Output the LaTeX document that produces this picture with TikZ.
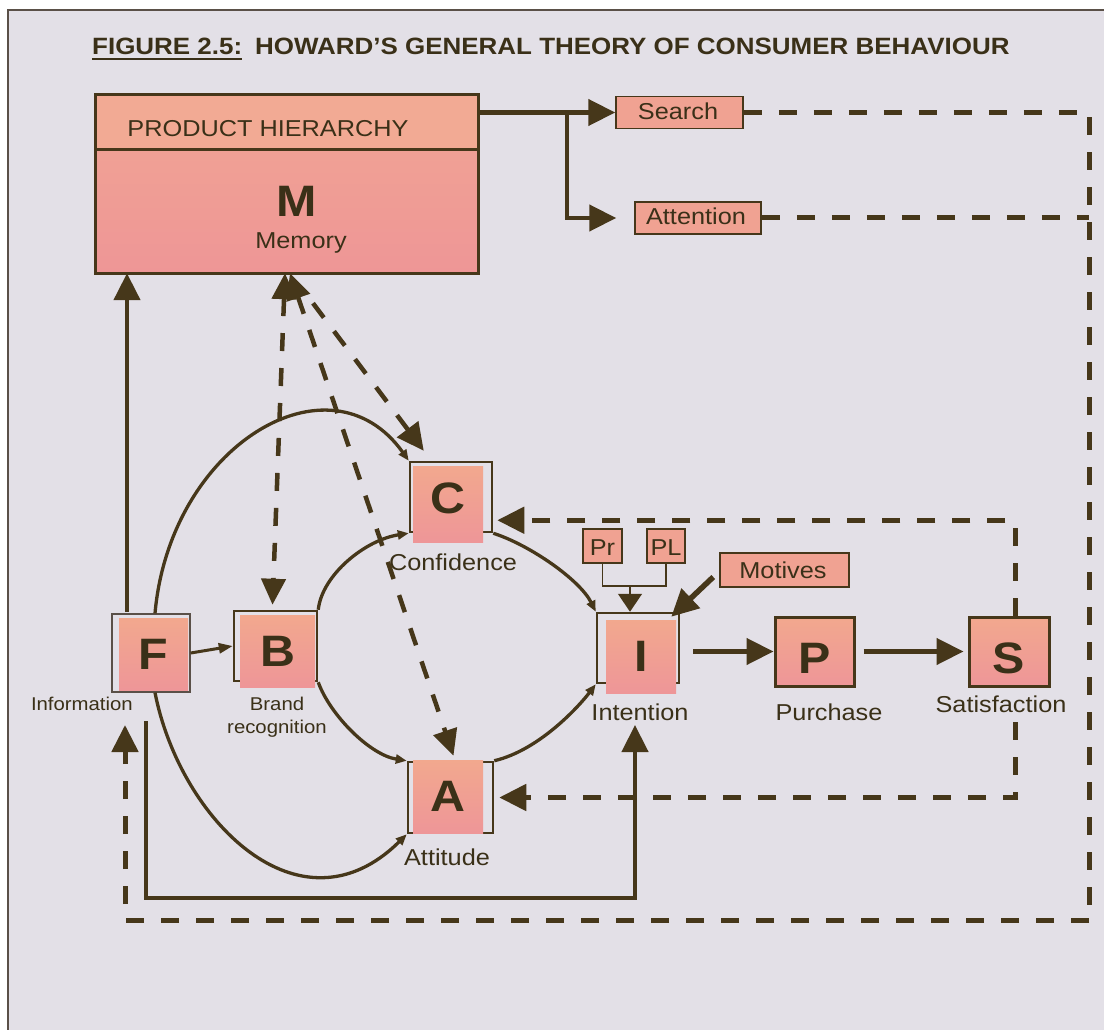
\documentclass[tikz,border=0pt]{standalone}
\usepackage{fontspec}
\setmainfont{Liberation Sans}[FakeStretch=1.1]
\usetikzlibrary{arrows.meta,calc}
\definecolor{bgc}{HTML}{E3E0E7}
\definecolor{lc}{HTML}{46371A}
\definecolor{tc}{HTML}{3A3018}
\definecolor{framec}{HTML}{5A5048}
\definecolor{pinkT}{HTML}{F2A88E}
\definecolor{pinkB}{HTML}{EE9698}
\definecolor{mtopc}{HTML}{F2AA94}
\definecolor{mlowT}{HTML}{F1A594}
\definecolor{mlowB}{HTML}{EE9696}
\definecolor{boxc}{HTML}{F0A292}
\newcommand{\ulword}[1]{\setbox0\hbox{#1}\rlap{\rule[-5pt]{\wd0}{2pt}}\box0}
\tikzset{
  ln/.style={draw=lc, line width=4.5pt},
  cv/.style={draw=lc, line width=3.3pt},
  thinln/.style={draw=lc, line width=1.5pt},
  dsh/.style={draw=lc, line width=5pt, dash pattern=on 18pt off 17pt},
  big/.style={-{Triangle[length=27pt,width=26pt]}},
  bigb/.style={{Triangle[length=26pt,width=24pt]}-{Triangle[length=26pt,width=24pt]}},
  sml/.style={-{Triangle[length=11pt,width=9pt]}},
  frm/.style={rectangle, inner sep=0pt, draw=lc, line width=2.5pt},
  pink/.style={rectangle, inner sep=0pt, top color=pinkT, bottom color=pinkB, draw=none,
    font=\fontsize{44}{44}\selectfont\bfseries, text=tc},
  pinkd/.style={pink, draw=lc, line width=3pt},
  lbl/.style={inner sep=0pt, text=tc, font=\fontsize{23}{26}\selectfont},
  lbls/.style={inner sep=0pt, text=tc, font=\fontsize{18.5}{23}\selectfont},
  sbox/.style={rectangle, inner sep=0pt, fill=boxc, draw=lc, line width=1.5pt},
}
\begin{document}
\begin{tikzpicture}[x=1pt,y=-1pt]
\useasboundingbox (0,0) rectangle (1104,1030);
\fill[white] (0,0) rectangle (1104,1030);
\fill[bgc] (8,10) rectangle (1104,1030);
\draw[framec, line width=1.5pt] (8,1030) -- (8,10) -- (1104,10);

% title
\node[anchor=base west, inner sep=0pt, text=tc, font=\fontsize{23.6}{26}\selectfont\bfseries] (title) at (92,55)
  {\ulword{FIGURE 2.5:}\hspace{0.55em}HOWARD’S GENERAL THEORY OF CONSUMER BEHAVIOUR};

% memory box
\node[rectangle, inner sep=0pt, minimum width=382pt, minimum height=178pt, top color=mlowT, bottom color=mlowB] (M) at (287,184) {};
\fill[mtopc] (M.north west) rectangle ($(M.north east)+(0,55)$);
\draw[lc, line width=3pt] (M.north west) rectangle (M.south east);
\draw[lc, line width=3pt] ($(M.north west)+(0,55)$) -- ($(M.north east)+(0,55)$);
\node[lbl, anchor=base] (PH) at (268,137) {PRODUCT HIERARCHY};
\node[inner sep=0pt, anchor=base, text=tc, font=\fontsize{44}{44}\selectfont\bfseries] (Mt) at (297,217) {M};
\node[lbl, anchor=base] (Mem) at (301,248) {Memory};

% search / attention
\node[sbox, minimum width=127pt, minimum height=32pt] (Search) at (679.5,112.5) {};
\node[lbl, anchor=base] (SearchT) at (678,120) {Search};
\node[sbox, minimum width=126pt, minimum height=32pt] (Att) at (698,218) {};
\node[lbl, anchor=base] (AttT) at (696,225) {Attention};

% frames
\node[frm, line width=1.2pt, draw=framec, minimum width=78pt, minimum height=78pt] (Ff) at (151,653) {};
\node[frm, minimum width=83pt, minimum height=70pt] (Bf) at (275.5,646) {};
\node[frm, minimum width=82pt, minimum height=70pt] (Cf) at (451,497) {};
\node[frm, minimum width=85pt, minimum height=71pt] (Af) at (450.5,797.5) {};
\node[frm, minimum width=82pt, minimum height=70pt] (If) at (638,648) {};

% pink boxes
\node[pink, minimum width=69pt, minimum height=72pt] (F) at (153.5,654) {F};
\node[pink, minimum width=75pt, minimum height=72pt] (B) at (277.5,651) {B};
\node[pink, minimum width=70pt, minimum height=76pt, text height=32pt, text depth=14pt] (C) at (448,504) {C};
\node[pink, minimum width=70pt, minimum height=73pt] (A) at (448,796.5) {A};
\node[pink, minimum width=70pt, minimum height=73pt] (I) at (641,656.5) {I};
\node[pinkd, minimum width=79pt, minimum height=69pt, text height=43pt, text depth=0pt] (P) at (814.5,651.5) {P};
\node[pinkd, minimum width=80pt, minimum height=69pt, text height=43pt, text depth=0pt] (S) at (1009,651.5) {S};

% small boxes
\node[sbox, minimum width=39pt, minimum height=34pt] (Pr) at (602.5,546) {};
\node[lbl, anchor=base] (PrT) at (602.5,555) {Pr};
\node[sbox, minimum width=38pt, minimum height=34pt] (PL) at (666,546) {};
\node[lbl, anchor=base] (PLT) at (666,555) {PL};
\node[sbox, minimum width=129pt, minimum height=34pt] (Mot) at (784.5,570) {};
\node[lbl, anchor=base] (MotT) at (783,578) {Motives};

% labels
\node[lbls, anchor=base east] (lInfo) at (133,710) {Information};
\node[lbls, align=center] (lBrand) at (277,717) {Brand\\recognition};
\node[lbl, anchor=base] (lConf) at (453,570) {Confidence};
\node[lbl, anchor=base] (lAtt) at (447,865) {Attitude};
\node[lbl, anchor=base] (lInt) at (640,720) {Intention};
\node[lbl, anchor=base] (lPur) at (829,720) {Purchase};
\node[lbl, anchor=base] (lSat) at (1001,712) {Satisfaction};

% coordinates
\coordinate (br) at (567,112.5);
\coordinate (bc) at (1089,920);
\coordinate (Fin) at (125,725);
\coordinate (fm) at (127,612);
\coordinate (fb) at (146,721);
\coordinate (ib) at (635,898);
\coordinate (itip) at (635,725);
\coordinate (jn) at (630,586);
\coordinate (sd) at (1015,722);

% M outputs
\draw[ln,big] (M.east |- Search.west) -- (Search.west);
\draw[ln,big] (br) |- ($(Att.west)+(-18,0)$);
\draw[dsh] (Search.east) -| (bc);
\draw[dsh,big] (bc) -| (Fin);
\draw[dsh] (Att.east) -- (Att.east -| bc);

% F connections
\draw[ln,big] (fm) -- (fm |- M.south);
\draw[line width=3pt, draw=lc, -{Triangle[length=14pt,width=10pt]}] (Ff.east) -- (Bf.west);
\draw[ln,big] (fb) |- (ib) -- (itip);

% curves
\draw[cv,sml] ($(Ff.north)+(4,0)$) .. controls (170,445) and (330,350) .. (Cf.north west);
\draw[cv,sml] ($(Ff.south)+(4,0)$) .. controls (180,820) and (300,940) .. (Af.south west);
\draw[cv,sml] (Bf.north east) .. controls (322,575) and (365,540) .. (Cf.south west);
\draw[cv,sml] (Bf.south east) .. controls (330,715) and (370,755) .. (Af.north west);
\draw[cv,sml] (Cf.south east) .. controls (530,545) and (580,580) .. (If.north west);
\draw[cv,sml] (Af.north east) .. controls (540,750) and (580,705) .. (If.south west);

% memory dashed links
\draw[dsh, line width=4.5pt, bigb] ($(M.south)+(-2,0)$) -- ($(Bf.north)+(-3,-5)$);
\draw[dsh, line width=4.5pt, bigb] ($(M.south)+(3,0)$) -- ($(Af.north)+(3,-5)$);
\draw[dsh, line width=4.5pt, big] ($(M.south)+(26,30)$) -- ($(Cf.north west)+(15,-10)$);

% Pr / PL
\draw[thinln] (Pr.south) |- (PL.south |- jn) -- (PL.south);
\draw[thinln, -{Triangle[length=18pt,width=24pt]}] (jn) -- (jn |- If.north);
\draw[ln, line width=5.5pt, big] ($(Mot.west)+(-6,7)$) -- ($(If.north east)+(-9,5)$);

% I -> P -> S
\draw[ln,big] ($(If.east |- P.west)+(13,0)$) -- (P.west);
\draw[ln,big] ($(P.east)+(8,0)$) -- ($(S.west)+(-4,0)$);

% feedback from S
\draw[dsh,big] ($(S.north)+(6,0)$) |- ($(Cf.south east)+(4,-13)$);
\draw[dsh,big] (sd) |- ($(Af.east)+(5,0)$);
\end{tikzpicture}
\end{document}
